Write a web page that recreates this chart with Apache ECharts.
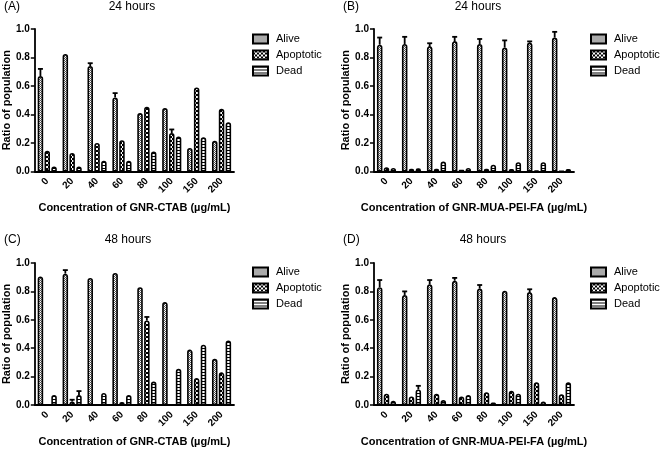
<!DOCTYPE html>
<html>
<head>
<meta charset="utf-8">
<script src="https://cdn.jsdelivr.net/npm/echarts@6/dist/echarts.min.js"></script>
<style>html,body{margin:0;padding:0;background:#fff}#c{width:661px;height:450px}</style>
</head>
<body>
<div id="c"></div>
<script>
// ---- data ----
const categories = ['0','20','40','60','80','100','150','200'];
const seriesNames = ['Alive','Apoptotic','Dead'];
const yTicks = [0, 0.2, 0.4, 0.6, 0.8, 1.0];

// (A) 24 hours, GNR-CTAB
const aAlive     = [0.67, 0.825, 0.74, 0.52, 0.41, 0.445, 0.165, 0.215];
const aApoptotic = [0.145, 0.13, 0.20, 0.22, 0.455, 0.27, 0.59, 0.44];
const aDead      = [0.035, 0.035, 0.075, 0.075, 0.14, 0.245, 0.24, 0.345];
const aAliveErr  = [0.05, 0, 0.02, 0.03, 0, 0, 0, 0];
const aApoErr    = [0, 0, 0, 0, 0, 0.025, 0, 0];
const aDeadErr   = [0, 0, 0, 0, 0, 0, 0, 0];

// (B) 24 hours, GNR-MUA-PEI-FA
const bAlive     = [0.89, 0.895, 0.88, 0.915, 0.895, 0.87, 0.905, 0.94];
const bApoptotic = [0.03, 0.02, 0.02, 0.012, 0.02, 0.018, 0.008, 0.004];
const bDead      = [0.025, 0.022, 0.07, 0.025, 0.048, 0.065, 0.065, 0.018];
const bAliveErr  = [0.05, 0.05, 0.02, 0.03, 0.035, 0.05, 0.008, 0.04];
const bApoErr    = [0, 0, 0, 0, 0, 0, 0, 0];
const bDeadErr   = [0, 0, 0, 0, 0, 0, 0, 0];

// (C) 48 hours, GNR-CTAB
const cAlive     = [0.905, 0.925, 0.895, 0.93, 0.83, 0.725, 0.39, 0.325];
const cApoptotic = [0.003, 0.025, 0.004, 0.022, 0.595, 0.003, 0.19, 0.23];
const cDead      = [0.07, 0.07, 0.085, 0.07, 0.165, 0.255, 0.425, 0.455];
const cAliveErr  = [0, 0.025, 0, 0, 0, 0, 0, 0];
const cApoErr    = [0, 0.012, 0, 0, 0.025, 0, 0, 0];
const cDeadErr   = [0, 0.028, 0, 0, 0, 0, 0, 0];

// (D) 48 hours, GNR-MUA-PEI-FA
const dAlive     = [0.83, 0.775, 0.85, 0.875, 0.82, 0.805, 0.795, 0.76];
const dApoptotic = [0.08, 0.06, 0.08, 0.06, 0.09, 0.10, 0.16, 0.075];
const dDead      = [0.03, 0.11, 0.035, 0.07, 0.017, 0.08, 0.025, 0.16];
const dAliveErr  = [0.05, 0.025, 0.03, 0.02, 0.025, 0, 0.02, 0];
const dApoErr    = [0, 0, 0, 0, 0, 0, 0, 0];
const dDeadErr   = [0, 0.025, 0, 0, 0, 0, 0, 0];

// ---- patterns ----
function makePattern(w, h, draw) {
  const cv = document.createElement('canvas');
  cv.width = w; cv.height = h;
  const ctx = cv.getContext('2d');
  draw(ctx);
  return { image: cv, repeat: 'repeat' };
}
const patAlive = makePattern(2, 2, ctx => {
  ctx.fillStyle = '#fff'; ctx.fillRect(0, 0, 2, 2);
  ctx.fillStyle = '#555'; ctx.fillRect(0, 0, 1, 1); ctx.fillRect(1, 1, 1, 1);
});
const patApo = makePattern(4, 4, ctx => {
  ctx.fillStyle = '#000'; ctx.fillRect(0, 0, 4, 4);
  ctx.fillStyle = '#fff'; ctx.fillRect(0, 0, 2, 2); ctx.fillRect(2, 2, 2, 2);
});
const patDead = makePattern(3, 3, ctx => {
  ctx.fillStyle = '#fff'; ctx.fillRect(0, 0, 3, 3);
  ctx.fillStyle = '#000'; ctx.fillRect(0, 0, 3, 1);
});
const patterns = [patAlive, patApo, patDead];

// ---- layout ----
const FONT = '"Liberation Sans", Arial, sans-serif';
const BAR_W = 5.5, BAR_GAP = 0.24;
const SLOT = BAR_W * (1 + BAR_GAP);
const panels = [
  { label: '(A)', title: '24 hours', xname: 'Concentration of GNR-CTAB (\u00b5g/mL)',
    data: [aAlive, aApoptotic, aDead], err: [aAliveErr, aApoErr, aDeadErr],
    grid: { left: 34, top: 29, width: 200, height: 142.5 },
    titleX: 132, titleY: 1, labelX: 4, legendX: 252, legendY: 32.5 },
  { label: '(B)', title: '24 hours', xname: 'Concentration of GNR-MUA-PEI-FA (\u00b5g/mL)',
    data: [bAlive, bApoptotic, bDead], err: [bAliveErr, bApoErr, bDeadErr],
    grid: { left: 374, top: 29, width: 200, height: 142.5 },
    titleX: 478, titleY: 1, labelX: 343, legendX: 590, legendY: 32.5 },
  { label: '(C)', title: '48 hours', xname: 'Concentration of GNR-CTAB (\u00b5g/mL)',
    data: [cAlive, cApoptotic, cDead], err: [cAliveErr, cApoErr, cDeadErr],
    grid: { left: 34, top: 263, width: 200, height: 142 },
    titleX: 128, titleY: 234, labelX: 4, legendX: 252, legendY: 265.5 },
  { label: '(D)', title: '48 hours', xname: 'Concentration of GNR-MUA-PEI-FA (\u00b5g/mL)',
    data: [dAlive, dApoptotic, dDead], err: [dAliveErr, dApoErr, dDeadErr],
    grid: { left: 374, top: 263, width: 200, height: 142 },
    titleX: 483, titleY: 234, labelX: 343, legendX: 590, legendY: 265.5 }
];

function errRender(params, api) {
  const k = api.value(3);
  const base = api.coord([api.value(0), api.value(1)]);
  const top = api.coord([api.value(0), api.value(2)]);
  const x = base[0] + (k - 1) * SLOT;
  return { type: 'group', children: [
    { type: 'line', shape: { x1: x, y1: base[1], x2: x, y2: top[1] }, style: { stroke: '#000', lineWidth: 1.8 } },
    { type: 'line', shape: { x1: x - 2.5, y1: top[1], x2: x + 2.5, y2: top[1] }, style: { stroke: '#000', lineWidth: 1.8 } }
  ]};
}

const option = {
  animation: false,
  textStyle: { fontFamily: FONT, color: '#000' },
  title: [], legend: [], grid: [], xAxis: [], yAxis: [], series: []
};

panels.forEach((p, pi) => {
  option.title.push({ text: p.title, left: p.titleX, top: p.titleY, textAlign: 'center', padding: 0,
    textStyle: { fontFamily: FONT, fontSize: 12, fontWeight: 'normal', color: '#000' } });
  option.title.push({ text: p.label, left: p.labelX, top: p.titleY, padding: 0,
    textStyle: { fontFamily: FONT, fontSize: 12, fontWeight: 'normal', color: '#000' } });
  option.legend.push({ data: seriesNames, orient: 'vertical', left: p.legendX, top: p.legendY,
    padding: 0, itemGap: 3, itemWidth: 15, itemHeight: 9, icon: 'rect', selectedMode: false,
    itemStyle: { borderColor: '#000', borderWidth: 2 },
    textStyle: { fontFamily: FONT, fontSize: 11, color: '#000', lineHeight: 13, padding: [0, 0, 0, 3] } });
  option.grid.push(Object.assign({}, p.grid));
  option.xAxis.push({
    type: 'category', gridIndex: pi, data: categories,
    name: p.xname, nameLocation: 'middle', nameGap: 31,
    nameTextStyle: { fontFamily: FONT, fontSize: 11, fontWeight: 'bold', color: '#000' },
    axisLine: { lineStyle: { color: '#000', width: 1.8 } },
    axisTick: { alignWithLabel: true, length: 4, lineStyle: { color: '#000', width: 1.5 } },
    axisLabel: { rotate: 45, margin: 8, fontFamily: FONT, fontSize: 10, fontWeight: 'bold', color: '#000' },
    splitLine: { show: false }
  });
  option.yAxis.push({
    type: 'value', gridIndex: pi, min: yTicks[0], max: yTicks[yTicks.length - 1], interval: 0.2,
    name: 'Ratio of population', nameLocation: 'middle', nameGap: 22, nameRotate: 90,
    nameTextStyle: { fontFamily: FONT, fontSize: 11, fontWeight: 'bold', color: '#000' },
    axisLine: { show: true, lineStyle: { color: '#000', width: 1.8 } },
    axisTick: { show: true, length: 4, lineStyle: { color: '#000', width: 1.5 } },
    axisLabel: { margin: 5, fontFamily: FONT, fontSize: 10, fontWeight: 'bold', color: '#000',
      formatter: v => v.toFixed(1) },
    splitLine: { show: false }
  });
  seriesNames.forEach((name, k) => {
    option.series.push({
      type: 'bar', name: name, xAxisIndex: pi, yAxisIndex: pi, data: p.data[k],
      barWidth: BAR_W, barGap: Math.round(BAR_GAP * 100) + '%',
      itemStyle: { color: patterns[k], borderColor: '#000', borderWidth: 1.6, borderRadius: [3, 3, 0, 0] },
      emphasis: { disabled: true }
    });
  });
  const errData = [];
  categories.forEach((c, i) => {
    for (let k = 0; k < 3; k++) {
      if (p.err[k][i] > 0) errData.push([i, p.data[k][i], p.data[k][i] + p.err[k][i], k]);
    }
  });
  option.series.push({
    type: 'custom', name: 'err' + pi, xAxisIndex: pi, yAxisIndex: pi, data: errData,
    renderItem: errRender, z: 5, silent: true
  });
});

const chart = echarts.init(document.getElementById('c'), null, { renderer: 'canvas' });
chart.setOption(option);
</script>
</body>
</html>
